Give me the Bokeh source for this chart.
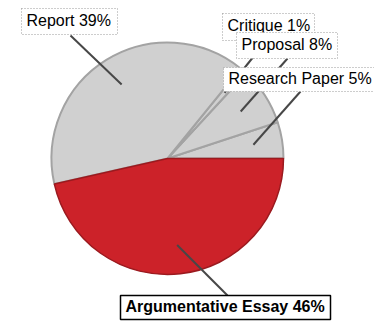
import math
from bokeh.plotting import figure
from bokeh.models import Range1d, ColumnDataSource
from bokeh.core.properties import value
from bokeh.embed import file_html
from bokeh.resources import INLINE

# Share of assignments by type, listed counter-clockwise from 3 o'clock
categories = ["Research Paper", "Proposal", "Critique", "Report", "Argumentative Essay"]
percents = [5, 8, 1, 39, 46]
fills = ["#d0d0d0", "#d0d0d0", "#d0d0d0", "#d0d0d0", "#cc2229"]
outlines = ["#a3a3a3", "#a3a3a3", "#a3a3a3", "#a3a3a3", "#9b1a1f"]

W, H = 374, 323
CX, CY, R = 167, H - 158, 116

total = float(sum(percents))
starts, ends = [], []
acc = 0.0
for v in percents:
    starts.append(2 * math.pi * acc / total)
    acc += v
    ends.append(2 * math.pi * acc / total)

p = figure(width=W, height=H, output_backend="svg", toolbar_location=None,
           x_range=Range1d(0, W), y_range=Range1d(0, H),
           min_border=0, outline_line_color=None)
p.axis.visible = False
p.grid.visible = False
p.background_fill_color = "white"
p.border_fill_color = "white"

# gray slices first, then the red slice so its dark outline sits on top
gray = [i for i in range(len(categories)) if fills[i] != "#cc2229"]
red = [i for i in range(len(categories)) if fills[i] == "#cc2229"]
for idx, lw in ((gray, 2), (red, 1.5)):
    src = ColumnDataSource(dict(start=[starts[i] for i in idx],
                                end=[ends[i] for i in idx],
                                fill=[fills[i] for i in idx],
                                line=[outlines[i] for i in idx]))
    p.wedge(x=CX, y=CY, radius=R, start_angle="start", end_angle="end",
            source=src, fill_color="fill", line_color="line", line_width=lw)

# label boxes (left, top, right, bottom in screen px from top-left)
boxes = {
    "Report": (21, 8, 117, 34),
    "Critique": (222, 13, 314, 40),
    "Proposal": (236, 32, 337, 58),
    "Research Paper": (223, 67, 377, 91),
    "Argumentative Essay": (120, 295, 330, 319),
}
# where each leader line meets its box
anchors = {
    "Report": (70, 35),
    "Critique": (266, 40),
    "Proposal": (287, 58),
    "Research Paper": (300, 91),
    "Argumentative Essay": (227, 295),
}

# leader lines: from 3/4 radius along each slice's middle angle to its box
xs, ys = [], []
for i, c in enumerate(categories):
    mid = (starts[i] + ends[i]) / 2
    ix = CX + 0.75 * R * math.cos(mid)
    iy = CY + 0.75 * R * math.sin(mid)
    ax, ay = anchors[c]
    xs.append([ix, ax])
    ys.append([iy, H - ay])
p.multi_line(xs=xs, ys=ys, line_color="#474747", line_width=2)

# labels stacked top to bottom so lower boxes overlap the ones above
font = value("Liberation Sans")
draw_order = ["Report", "Critique", "Proposal", "Research Paper", "Argumentative Essay"]
for c in draw_order:
    i = categories.index(c)
    l, t, r, b = boxes[c]
    bold = c == "Argumentative Essay"
    p.quad(left=l, right=r, top=H - t, bottom=H - b, fill_color="white",
           line_color="black" if bold else "#9a9a9a",
           line_width=1.5 if bold else 1,
           line_dash="solid" if bold else "1 2")
    p.text(x=[l + 5], y=[H - (t + b) / 2 + 1.5], text=[f"{c} {percents[i]}%"],
           text_font=font, text_font_size="16px",
           text_font_style="bold" if bold else "normal",
           text_color="black", text_align="left", text_baseline="middle")

open("out.html", "w").write(file_html(p, INLINE))
